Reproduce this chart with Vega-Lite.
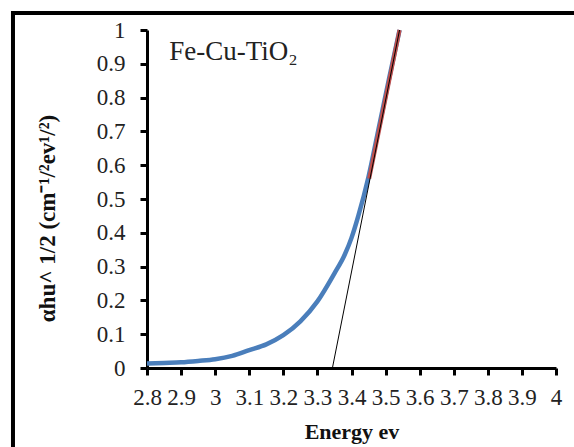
{
  "$schema": "https://vega.github.io/schema/vega-lite/v6.json",
  "autosize": {"type": "none"},
  "width": 409,
  "height": 338,
  "padding": {"left": 147, "top": 30, "right": 18, "bottom": 79},
  "background": "white",
  "config": {
    "view": {"stroke": null}
  },
  "encoding": {
    "x": {
      "field": "E", "type": "quantitative",
      "scale": {"domain": [2.8, 4], "nice": false, "zero": false},
      "axis": {
        "values": [2.8, 2.9, 3, 3.1, 3.2, 3.3, 3.4, 3.5, 3.6, 3.7, 3.8, 3.9, 4],
        "format": "~g",
        "grid": false,
        "domainColor": "black", "domainWidth": 3,
        "tickColor": "black", "tickWidth": 3, "tickSize": 7,
        "labelFont": "Liberation Serif", "labelFontSize": 23, "labelColor": "#222222",
        "labelOverlap": false, "labelFlush": false,
        "labelPadding": 11,
        "title": "Energy ev",
        "titleFont": "Liberation Serif", "titleFontWeight": "bold", "titleFontSize": 22, "titleColor": "#111111",
        "titlePadding": 12
      }
    },
    "y": {
      "field": "v", "type": "quantitative",
      "scale": {"domain": [0, 1], "nice": false},
      "axis": {
        "values": [0, 0.1, 0.2, 0.3, 0.4, 0.5, 0.6, 0.7, 0.8, 0.9, 1],
        "format": "~g",
        "grid": false,
        "domainColor": "black", "domainWidth": 3,
        "tickColor": "black", "tickWidth": 3, "tickSize": 7,
        "labelFont": "Liberation Serif", "labelFontSize": 23, "labelColor": "#222222",
        "labelOverlap": false, "labelFlush": false,
        "labelPadding": 15,
        "title": "αhu^ 1/2 (cm⁻¹/²ev¹/²)",
        "titleFont": "Liberation Serif", "titleFontWeight": "bold", "titleFontSize": 23, "titleColor": "#111111",
        "titlePadding": 37,
        "titleY": 188
      }
    }
  },
  "layer": [
    {
      "data": {"values": [{"E": 2.4068, "E2": 4.4, "v": -0.6, "v2": 1.0503}]},
      "mark": {"type": "rect", "fill": null, "stroke": "black", "strokeWidth": 4, "clip": false},
      "encoding": {
        "x2": {"field": "E2"},
        "y2": {"field": "v2"}
      }
    },
    {
      "data": {"values": [
        {"E": 2.80, "v": 0.013},
        {"E": 2.85, "v": 0.015},
        {"E": 2.90, "v": 0.017},
        {"E": 2.95, "v": 0.021},
        {"E": 3.00, "v": 0.026},
        {"E": 3.05, "v": 0.036},
        {"E": 3.10, "v": 0.053},
        {"E": 3.15, "v": 0.070},
        {"E": 3.20, "v": 0.097},
        {"E": 3.25, "v": 0.138},
        {"E": 3.30, "v": 0.197},
        {"E": 3.35, "v": 0.280},
        {"E": 3.38, "v": 0.335},
        {"E": 3.40, "v": 0.385},
        {"E": 3.42, "v": 0.450},
        {"E": 3.45, "v": 0.566},
        {"E": 3.48, "v": 0.710},
        {"E": 3.51, "v": 0.855},
        {"E": 3.541, "v": 1.0}
      ]},
      "mark": {"type": "line", "color": "#4A7EBB", "strokeWidth": 4.5, "interpolate": "monotone"},
      "encoding": {}
    },
    {
      "data": {"values": [{"E": 3.452, "v": 0.56}, {"E": 3.541, "v": 1.0}]},
      "mark": {"type": "line", "color": "#C0504D", "strokeWidth": 4},
      "encoding": {}
    },
    {
      "data": {"values": [{"E": 3.344, "v": 0.0}, {"E": 3.541, "v": 1.0}]},
      "mark": {"type": "line", "color": "black", "strokeWidth": 1},
      "encoding": {}
    },
    {
      "data": {"values": [{"E": 2.865, "v": 0.911, "label": "Fe-Cu-TiO₂"}]},
      "mark": {"type": "text", "align": "left", "baseline": "alphabetic", "font": "Liberation Serif", "fontSize": 27, "color": "#222222"},
      "encoding": {
        "text": {"field": "label"}
      }
    }
  ]
}
